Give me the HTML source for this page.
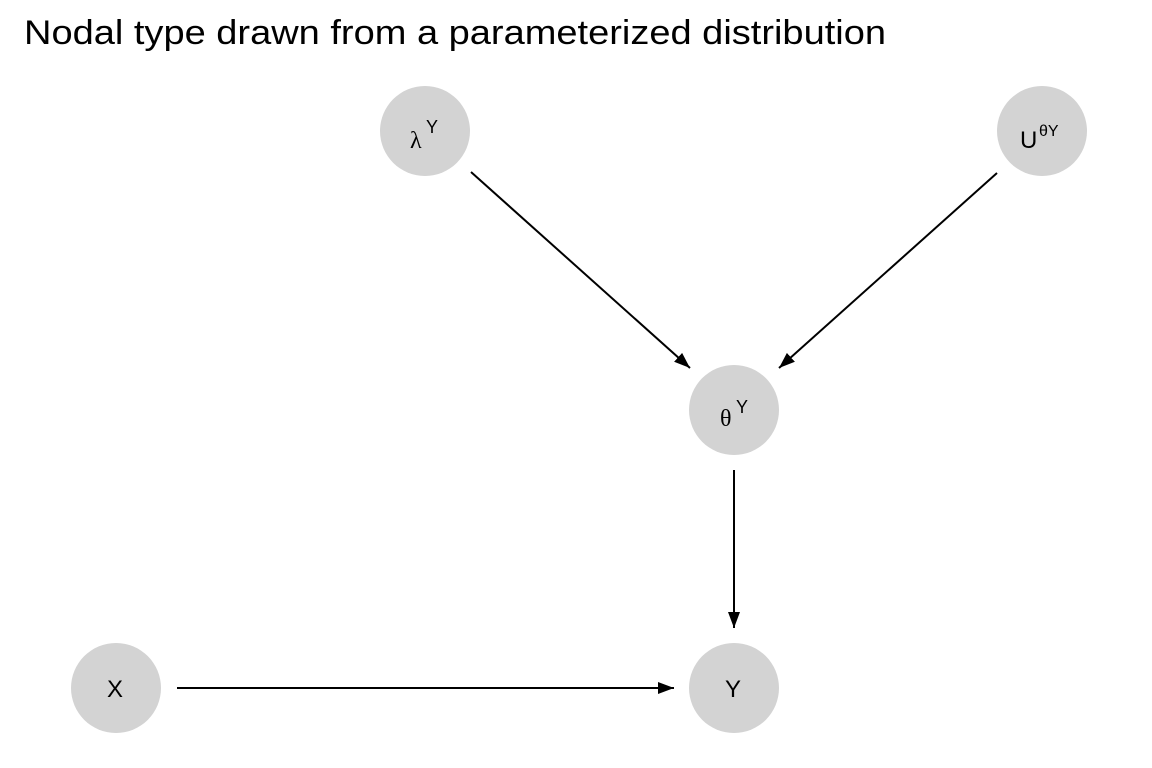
<!DOCTYPE html>
<html><head><style>body{margin:0;background:#fff}svg{display:block}</style></head><body>
<svg width="1152" height="768" xmlns="http://www.w3.org/2000/svg" font-family="Liberation Sans, sans-serif">
<defs><marker id="b" viewBox="0 0 16 12" markerWidth="16" markerHeight="12" refX="16" refY="6" orient="auto" markerUnits="userSpaceOnUse"><path d="M0,0 L16,6 L0,12z" fill="#000"/></marker></defs>
<text x="24" y="44" font-size="34" textLength="862" lengthAdjust="spacingAndGlyphs">Nodal type drawn from a parameterized distribution</text>
<g fill="#d3d3d3"><circle cx="425" cy="131" r="45"/><circle cx="1042" cy="131" r="45"/><circle cx="734" cy="410" r="45"/><circle cx="116" cy="688" r="45"/><circle cx="734" cy="688" r="45"/></g>
<g stroke="#000" stroke-width="2" marker-end="url(#b)">
<line x1="471" y1="172" x2="690" y2="368"/><line x1="997" y1="173" x2="779" y2="368"/>
<line x1="734" y1="470" x2="734" y2="628"/><line x1="177" y1="688" x2="674" y2="688"/></g>
<g font-size="24" fill="#000">
<text x="410" y="148" font-family="Liberation Serif, serif">λ</text><text x="426" y="133" font-size="18">Y</text>
<text x="1020" y="148">U</text><text x="1039" y="136" font-size="16">θY</text>
<text x="720" y="426" font-family="Liberation Serif, serif">θ</text><text x="736" y="413" font-size="18">Y</text>
<text x="107" y="697">X</text><text x="725" y="697">Y</text></g>
</svg></body></html>
